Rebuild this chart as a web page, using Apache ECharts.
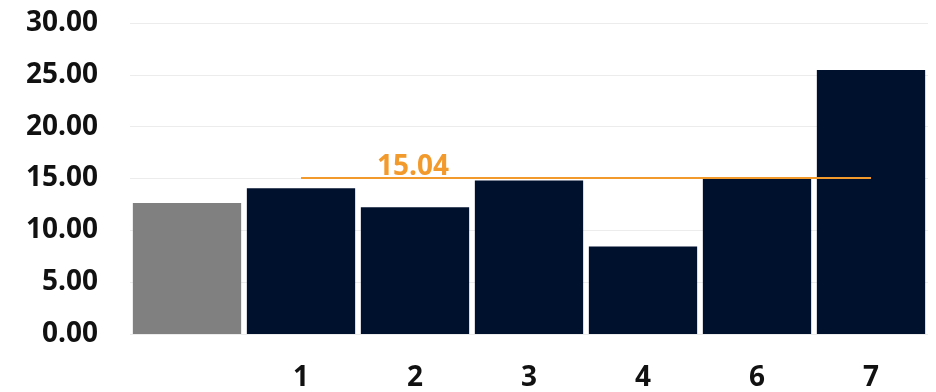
<!DOCTYPE html>
<html>
<head>
<meta charset="utf-8">
<script src="https://cdn.jsdelivr.net/npm/echarts@6/dist/echarts.min.js"></script>
<style>
  html, body { margin: 0; padding: 0; background: #ffffff; }
  #chart { width: 936px; height: 392px; }
</style>
</head>
<body>
<div id="chart"></div>
<script>
// Category labels (first bar is the unlabelled reference bar)
const categories = ['', '1', '2', '3', '4', '6', '7'];
// Bar values
const values = [12.64, 14.07, 12.22, 14.8, 8.43, 15.0, 25.46];
// Average line value and the categories it spans
const averageValue = 15.04;
const averageFrom = 1;
const averageTo = 6;
// Y axis range
const yMin = 0, yMax = 30, yStep = 5;

const NAVY = '#00112e';
const GREY = '#808080';
const ORANGE = '#f39a2c';
const FONT = '"Open Sans", "DejaVu Sans", sans-serif';

const chart = echarts.init(document.getElementById('chart'), null, { renderer: 'canvas' });

chart.setOption({
  animation: false,
  backgroundColor: '#ffffff',
  grid: { left: 130, right: 8, top: 23, bottom: 55, containLabel: false },
  xAxis: {
    type: 'category',
    data: categories,
    axisLine: { show: false },
    axisTick: { show: false },
    axisLabel: {
      color: '#111111',
      fontFamily: FONT,
      fontWeight: 'bold',
      fontSize: 28,
      margin: 30
    }
  },
  yAxis: {
    type: 'value',
    min: yMin,
    max: yMax,
    interval: yStep,
    axisLine: { show: false },
    axisTick: { show: false },
    splitLine: { lineStyle: { color: '#ececec', width: 1 } },
    axisLabel: {
      color: '#111111',
      fontFamily: FONT,
      fontWeight: 'bold',
      fontSize: 28,
      margin: 32,
      formatter: v => v.toFixed(2)
    }
  },
  series: [{
    type: 'bar',
    data: values.map((v, i) => ({
      value: v,
      itemStyle: { color: i === 0 ? GREY : NAVY }
    })),
    barCategoryGap: '5%',
    markLine: {
      silent: true,
      symbol: ['none', 'none'],
      lineStyle: { color: ORANGE, width: 2, type: 'solid' },
      label: {
        show: true,
        position: 'insideStartTop',
        distance: [76, -3],
        color: ORANGE,
        fontFamily: FONT,
        fontWeight: 'bold',
        fontSize: 28,
        formatter: averageValue.toFixed(2)
      },
      data: [[
        { coord: [averageFrom, averageValue] },
        { coord: [averageTo, averageValue] }
      ]]
    }
  }]
});
</script>
</body>
</html>
